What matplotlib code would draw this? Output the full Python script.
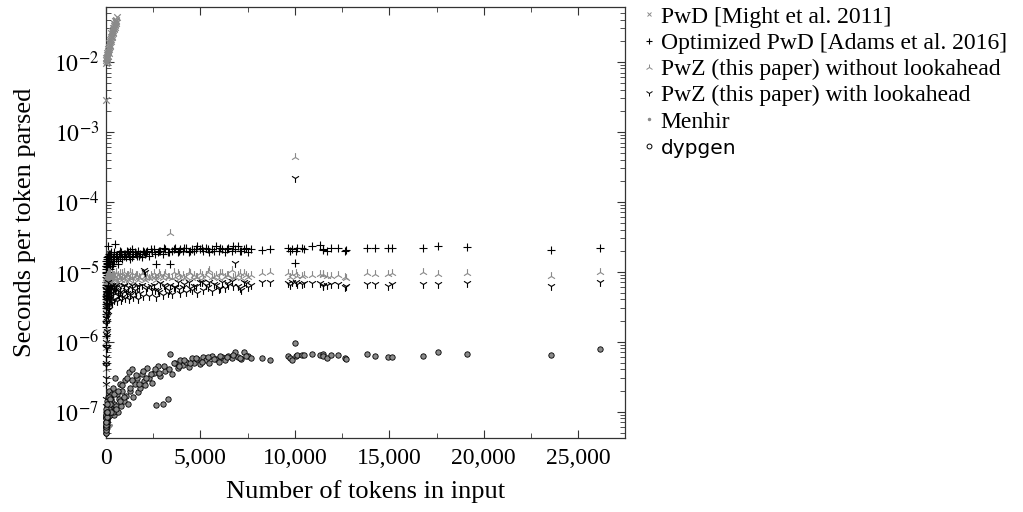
import matplotlib
matplotlib.use("Agg")
import matplotlib.pyplot as plt
from matplotlib.lines import Line2D
from matplotlib.ticker import FixedLocator, FuncFormatter, NullFormatter
import numpy as np

# ---------------- data ----------------
# PwD [Might et al. 2011] (seconds per token)
might_tokens = [3, 10, 20, 30, 40, 50, 60, 75, 90, 105, 120, 135, 150, 170, 190, 210, 230,
                250, 270, 290, 310, 330, 350, 370, 390, 410, 430, 450, 470, 490, 510, 530, 550, 570,
                15, 35, 55, 80, 110, 140, 180, 220, 260, 300, 340, 380, 420, 460, 500, 540]
might_secs = [0.0028, 0.0095, 0.0105, 0.011, 0.0102, 0.0125, 0.0112, 0.0135, 0.0122, 0.0150,
              0.0138, 0.0162, 0.0150, 0.0182, 0.0168, 0.0205, 0.0190, 0.0228, 0.0212, 0.0255,
              0.0232, 0.0275, 0.0258, 0.0300, 0.0280, 0.0325, 0.0305, 0.0350, 0.0330, 0.0375,
              0.0355, 0.0400, 0.0380, 0.0440,
              0.0112, 0.0098, 0.0118, 0.0120, 0.0140, 0.0132, 0.0160, 0.0172, 0.0200, 0.0225,
              0.0245, 0.0262, 0.0290, 0.0312, 0.0340, 0.0362]

# Shared input sizes (tokens) of the benchmark files
tokens = [3, 5, 7, 9, 11, 14, 17, 20, 24, 28, 33, 38, 44, 50, 57, 65, 74, 84, 95, 107, 120, 135,
          150, 170, 190, 215, 240, 270, 300,
          335, 370, 410, 450, 495, 540, 590, 640, 695, 750, 810, 870, 935, 1000, 1070, 1140,
          1215, 1290, 1370, 1450, 1530, 1620, 1710, 1800, 1890, 1990, 2090, 2190, 2300, 2410,
          2520, 2640, 2760, 2880, 3000, 3130, 3260, 3390, 3520, 3660, 3800, 3940, 4080, 4230,
          4380, 4530, 4680, 4830, 4990, 5150, 5310, 5470, 5630, 5800, 5970, 6140, 6310, 6480,
          6650, 6820, 6990, 7160, 7330, 7500, 7660,
          8250, 8690, 9660, 9750, 9840, 10020, 10070, 10110, 10370, 10460, 10900, 11340, 11480,
          11510, 11720, 11900, 12310, 12660, 12710, 13810, 14250, 14950, 15130, 16770, 17600,
          19100, 23550, 26150]
tokens_b = [280, 355, 430, 520, 610, 720, 830, 960, 1100, 1250, 1400, 1580, 1750, 1940, 2140,
            2360, 2580, 2820, 3060, 3320, 3590, 3870, 4150, 4450, 4760, 5070, 5390, 5720, 6060,
            6400, 6740, 7080, 7420, 60, 90, 115, 140, 160, 180, 200, 225, 255, 40, 22, 12,
            2, 4, 6, 8, 10, 13, 16, 19, 26, 31, 36, 47, 53]

# Optimized PwD [Adams et al. 2016] (microseconds per token)
opt_us = [0.9, 2.5, 12, 4.0, 8.5, 1.6, 14, 6.0, 11, 3.2, 15, 9.0, 13, 5.0, 16, 10, 12, 17, 11,
          14, 23, 12, 16, 13, 18, 11, 15, 17, 13,
          12, 16, 14, 18, 25, 15, 17, 13, 18, 16, 19, 15, 17, 18, 16, 19,
          17, 20, 16, 18, 19, 17, 20, 18, 16, 19, 18, 20, 17, 19,
          21, 13, 19, 20, 18, 21, 19, 13, 20, 22, 19, 21, 20, 22,
          19, 21, 20, 23, 21, 20, 22, 19, 21, 23, 20, 21, 19, 22,
          20, 21, 23, 20, 21, 19, 21,
          20.5, 21, 21.5, 20, 21, 13.5, 20, 22, 21.5, 21, 23, 24, 20.5,
          21, 20, 21.5, 21.5, 19.5, 20.5, 21.5, 21.5, 21.5, 21.5, 21.5, 23,
          22.5, 20.5, 22]
opt_us_b = [16, 13, 19, 17, 14, 20, 16, 18, 20, 15, 21, 18, 17, 20, 19, 21, 18, 20, 22, 19, 21,
            20, 22, 20, 21, 22, 21, 20, 22, 21, 23, 20, 22, 8, 12, 15, 18, 11, 14, 17, 13, 19,
            7, 3.5, 10,
            0.5, 1.2, 3, 6.5, 2, 9.5, 4.5, 12, 7, 10, 13.5, 11.5, 6]

# PwZ without lookahead (microseconds per token)
pwz_no_us = [0.4, 1.2, 5, 2.0, 7, 0.8, 6, 3.0, 8, 1.5, 9, 4.5, 7, 2.6, 8.5, 5.5, 7, 9, 6,
             8, 10, 7, 9, 6.5, 8, 9.5, 7, 8.5, 9,
             6.5, 8, 9, 7.5, 8.5, 10, 7, 9, 8, 9.5, 7.5, 8.5, 10, 7.5, 8.5, 9,
             7.5, 8, 9.5, 7, 8.5, 9, 7.5, 8, 9.5, 8.5, 7.5, 9, 8, 8.5,
             9.5, 7.5, 8.5, 9, 8, 9.5, 8.5, 36, 8, 8.5, 9.5, 8, 9, 8.5,
             10, 8, 9, 8.5, 9.5, 8, 9, 10.5, 8.5, 9, 8, 9.5, 8.5, 9,
             10.5, 8.5, 9, 8, 9.5, 8.5, 9,
             9.5, 9.8, 9.5, 8.5, 9.2, 430, 9.6, 8.8, 8.8, 9.0, 8.9, 9.4, 9.0,
             9.3, 8.6, 8.8, 9.0, 8.4, 8.2, 9.6, 9.4, 9.2, 9.6, 10.0, 9.4,
             9.6, 8.7, 9.8]
pwz_no_us_b = [7.5, 9, 8, 9.5, 7, 8.5, 9.5, 8, 9, 10, 8, 9, 8.5, 9.5, 8, 9, 8.5, 9.5, 9, 8.5,
               10, 9, 8, 9.5, 8.5, 9, 10, 8.5, 9.5, 9, 8.5, 9.5, 9, 6, 8, 9, 7.5, 10, 8.5, 7,
               9, 8, 4, 2.2, 5.5,
               0.25, 0.5, 1.5, 3.5, 1, 5, 2.4, 7.5, 4, 6.5, 8, 5.5, 3.5]

# PwZ with lookahead (microseconds per token)
pwz_la_us = [0.15, 0.6, 3, 1.0, 4.5, 0.3, 4, 1.8, 5.5, 0.8, 6, 2.5, 5, 1.4, 6, 3.2, 4.5, 6, 2.8,
             5, 7, 3.5, 5.5, 2.9, 4.5, 6, 3.8, 5, 6.5,
             3.6, 5, 6, 4, 5.5, 6.5, 3.8, 5.5, 4.5, 6, 3.9, 5, 6.5, 4.2, 5.5, 6,
             4, 5, 6.5, 4.3, 5.5, 6.2, 4.1, 5, 6.5, 10.5, 10, 6, 4.5, 5.5,
             6.5, 4.4, 5.5, 6.8, 4.6, 6, 5, 6.5, 4.8, 6, 7, 5, 6, 5.2,
             7, 5.5, 6.2, 5, 7, 5.5, 6.5, 7.2, 5.3, 6.5, 5.6, 7, 5.8, 6.5,
             7.3, 13.2, 6.2, 5.5, 7, 6, 6.5,
             7.0, 7.2, 6.8, 6.5, 7.0, 215, 7.0, 6.6, 6.6, 6.8, 6.9, 6.8, 6.3,
             6.4, 6.5, 6.6, 6.7, 6.0, 6.2, 6.7, 6.6, 6.2, 6.6, 6.7, 6.7,
             6.8, 6.2, 7.0]
pwz_la_us_b = [4.5, 5.5, 3.9, 6, 4.8, 5.2, 4.4, 6.2, 5, 4.6, 5.8, 4.9, 6.3, 4.5, 5.6, 6.2, 5.4,
               5.1, 6.5, 5.5, 6.1, 5.7, 6.6, 5.9, 6.3, 7, 6.1, 6.6, 5.8, 6.8, 6.2, 5.9, 6.9,
               3.5, 2.4, 5, 4, 6, 3.3, 5.5, 4.2, 6, 1.2, 0.5, 2.2,
               0.12, 0.25, 0.8, 2.2, 0.45, 3.5, 1.3, 5, 2.6, 4, 5.5, 3.8, 2]

# dypgen (microseconds per token)
dypgen_us = [0.06, 0.05, 0.08, 0.055, 0.07, 0.065, 0.09, 0.06, 0.1, 0.075, 0.12, 0.08, 0.065,
             0.11, 0.09, 0.14, 0.07, 0.1, 0.16, 0.085, 0.12, 0.2, 0.1, 0.13, 0.17, 0.09, 0.15,
             0.12, 0.18,
             0.1, 0.22, 0.13, 0.09, 0.3, 0.12, 0.18, 0.1, 0.15, 0.25, 0.12, 0.2, 0.14, 0.28,
             0.17, 0.13, 0.37, 0.2, 0.4, 0.16, 0.25, 0.3, 0.19, 0.22, 0.35, 0.27, 0.24, 0.42,
             0.3, 0.26, 0.36, 0.125, 0.45, 0.32, 0.13, 0.38, 0.15, 0.66, 0.35, 0.5, 0.42, 0.55,
             0.47, 0.52, 0.44, 0.58, 0.5, 0.56, 0.48, 0.6, 0.54, 0.5, 0.62, 0.57, 0.52, 0.6,
             0.55, 0.63, 0.58, 0.72, 0.6, 0.56, 0.7, 0.62, 0.59,
             0.58, 0.54, 0.62, 0.58, 0.55, 0.95, 0.62, 0.64, 0.65, 0.65, 0.66, 0.65, 0.66,
             0.62, 0.58, 0.65, 0.65, 0.58, 0.56, 0.67, 0.63, 0.6, 0.6, 0.62, 0.71,
             0.66, 0.64, 0.78]
dypgen_us_b = [0.14, 0.1, 0.18, 0.11, 0.2, 0.14, 0.24, 0.16, 0.3, 0.22, 0.28, 0.33, 0.25, 0.38,
               0.3, 0.34, 0.4, 0.36, 0.45, 0.4, 0.5, 0.45, 0.55, 0.5, 0.58, 0.52, 0.6, 0.56,
               0.62, 0.6, 0.65, 0.58, 0.63, 0.09, 0.13, 0.1, 0.16, 0.12, 0.11, 0.15, 0.13, 0.1,
               0.07, 0.06, 0.085,
               0.05, 0.055, 0.06, 0.07, 0.065, 0.08, 0.07, 0.09, 0.11, 0.085, 0.1, 0.13, 0.1]

# Menhir (seconds per token)
menhir_tokens = [5, 20, 50, 95, 150, 240]
menhir_secs = [4.6e-8, 5.2e-8, 5.5e-8, 6.0e-8, 5.8e-8, 6.5e-8]

labels = ["PwD [Might et al. 2011]", "Optimized PwD [Adams et al. 2016]",
          "PwZ (this paper) without lookahead", "PwZ (this paper) with lookahead",
          "Menhir", "dypgen"]
x_ticks = [0, 5000, 10000, 15000, 20000, 25000]
y_ticks = [1e-7, 1e-6, 1e-5, 1e-4, 1e-3, 1e-2]

# ---------------- style ----------------
plt.rcParams["font.family"] = ["Liberation Serif", "DejaVu Serif"]
plt.rcParams["mathtext.fontset"] = "stix"
FS_TICK = 17
FS_LABEL = 19
FS_LEG = 17
GRAY = "#8a8a8a"

fig = plt.figure(figsize=(10.23, 5.12), dpi=100)
ax = fig.add_axes([106 / 1023, 74 / 512, (625 - 106) / 1023, (505 - 74) / 512])

US = 1e-6
all_tok = tokens + tokens_b
ax.scatter(might_tokens, might_secs, marker="x", s=22, c=GRAY, linewidths=0.9,
           clip_on=False, zorder=3)
ax.scatter(all_tok, np.array(opt_us + opt_us_b) * US, marker="+", s=40, c="black",
           linewidths=0.8, clip_on=False, zorder=3)
ax.scatter(all_tok, np.array(pwz_no_us + pwz_no_us_b) * US, marker="2", s=40, c=GRAY,
           linewidths=0.8, clip_on=False, zorder=4)
ax.scatter(all_tok, np.array(pwz_la_us + pwz_la_us_b) * US, marker="1", s=40, c="black",
           linewidths=0.8, clip_on=False, zorder=5)
ax.scatter(menhir_tokens, menhir_secs, marker=".", s=6, c=GRAY, clip_on=False, zorder=6)
ax.scatter(all_tok, np.array(dypgen_us + dypgen_us_b) * US, marker="o", s=15,
           facecolors=GRAY, edgecolors="black", linewidths=0.6, clip_on=False, zorder=7)

ax.set_yscale("log")
ax.set_xlim(0, 27480)
ax.set_ylim(4.2e-8, 0.0604)

ax.xaxis.set_major_locator(FixedLocator(x_ticks))
ax.xaxis.set_minor_locator(FixedLocator([2500, 7500, 12500, 17500, 22500]))
ax.xaxis.set_major_formatter(FuncFormatter(lambda v, p: f"{int(v):,}"))
ax.yaxis.set_major_locator(FixedLocator(y_ticks))
ax.yaxis.set_major_formatter(FuncFormatter(
    lambda v, p: r"$10^{%d}$" % int(round(np.log10(v)))))
minor_y = [k * 10.0 ** e for e in range(-8, -1) for k in range(2, 10)
           if 4.2e-8 <= k * 10.0 ** e <= 0.0604]
ax.yaxis.set_minor_locator(FixedLocator(minor_y))
ax.yaxis.set_minor_formatter(NullFormatter())

ax.tick_params(which="both", direction="in", top=True, right=True, labelsize=FS_TICK,
               color="#333333")
ax.tick_params(which="major", length=6, width=0.8)
ax.tick_params(which="minor", length=3.5, width=0.6)
ax.tick_params(axis="x", pad=7)
ax.tick_params(axis="y", pad=5)
for sp in ax.spines.values():
    sp.set_linewidth(0.9)
    sp.set_color("#333333")

ax.set_xlabel("Number of tokens in input", fontsize=FS_LABEL, labelpad=8)
ax.set_ylabel("Seconds per token parsed", fontsize=FS_LABEL, labelpad=13)

handles = [
    Line2D([], [], ls="none", marker="x", ms=3, mec=GRAY, mew=0.7),
    Line2D([], [], ls="none", marker="+", ms=5, mec="black", mew=0.8),
    Line2D([], [], ls="none", marker="2", ms=5, mec=GRAY, mew=0.7),
    Line2D([], [], ls="none", marker="1", ms=5, mec="black", mew=0.7),
    Line2D([], [], ls="none", marker=".", ms=3, mec=GRAY, mfc=GRAY),
    Line2D([], [], ls="none", marker="o", ms=3.5, mfc="white", mec="black", mew=0.7),
]
leg = fig.legend(handles, labels, loc="upper left", bbox_to_anchor=(643 / 1023, 1 - 6 / 512),
                 frameon=False, fontsize=FS_LEG, handlelength=0.5, handletextpad=0.25,
                 labelspacing=0.2, borderaxespad=0, borderpad=0)
leg.get_texts()[5].set_fontfamily("DejaVu Sans")
leg.get_texts()[5].set_fontsize(FS_LEG - 2.5)

fig.savefig("out.png", dpi=100)
